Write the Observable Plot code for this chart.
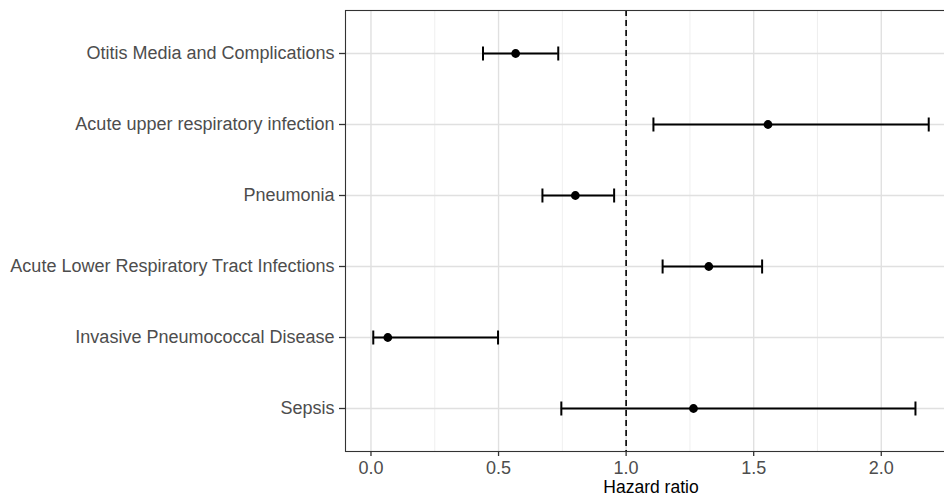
<!DOCTYPE html>
<html>
<head>
<meta charset="utf-8">
<script src="https://cdn.jsdelivr.net/npm/d3@7"></script>
<script src="https://cdn.jsdelivr.net/npm/@observablehq/plot@0.6"></script>
<style>
  html, body { margin: 0; padding: 0; background: #fff; }
  #chart { width: 944px; height: 500px; overflow: hidden; }
  #chart svg { display: block; max-width: none !important; }
  g[aria-label="y-axis tick label"] text, g[aria-label="x-axis tick label"] text { fill: #4d4d4d; }
</style>
</head>
<body>
<div id="chart"></div>
<script>
const outcomes = [
  "Otitis Media and Complications",
  "Acute upper respiratory infection",
  "Pneumonia",
  "Acute Lower Respiratory Tract Infections",
  "Invasive Pneumococcal Disease",
  "Sepsis"
];
const hazardRatio = [0.567, 1.556, 0.801, 1.324, 0.066, 1.264];
const lowerCI     = [0.439, 1.107, 0.672, 1.143, 0.009, 0.746];
const upperCI     = [0.734, 2.186, 0.953, 1.533, 0.498, 2.134];
const xTicks      = [0, 0.5, 1, 1.5, 2];
const xMinorTicks = [0.25, 0.75, 1.25, 1.75, 2.25];
const referenceLine = [1];
const xLabel = "Hazard ratio";

const data = outcomes.map((name, i) => ({name, hr: hazardRatio[i], lo: lowerCI[i], hi: upperCI[i]}));

const vbar = {
  draw(context, size) {
    const r = Math.sqrt(size / Math.PI);
    context.moveTo(0, -r);
    context.lineTo(0, r);
  }
};

const span = d3.extent([...lowerCI, ...upperCI]);
const pad = (span[1] - span[0]) * 0.05;

const chart = Plot.plot({
  width: 956,
  height: 500,
  marginLeft: 345,
  marginRight: 0,
  marginTop: 10,
  marginBottom: 49,
  style: {fontFamily: "'Liberation Sans', Arial, sans-serif", fontSize: "18px", color: "#333", maxWidth: "none"},
  x: {domain: [span[0] - pad, span[1] + pad]},
  y: {type: "point", domain: outcomes, padding: 0.6},
  marks: [
    Plot.gridX(xMinorTicks, {stroke: "#ebebeb", strokeOpacity: 1, strokeWidth: 0.8}),
    Plot.gridX(xTicks, {stroke: "#e0e0e0", strokeOpacity: 1, strokeWidth: 1.4}),
    Plot.gridY(outcomes, {stroke: "#e0e0e0", strokeOpacity: 1, strokeWidth: 1.4}),
    Plot.ruleX(referenceLine, {stroke: "#000", strokeWidth: 1.6, strokeDasharray: "6,4"}),
    Plot.ruleY(data, {y: "name", x1: "lo", x2: "hi", stroke: "#000", strokeWidth: 2}),
    Plot.dot(data, {y: "name", x: "lo", symbol: vbar, r: 7, stroke: "#000", strokeWidth: 2}),
    Plot.dot(data, {y: "name", x: "hi", symbol: vbar, r: 7, stroke: "#000", strokeWidth: 2}),
    Plot.dot(data, {y: "name", x: "hr", r: 4.4, fill: "#000", stroke: "none"}),
    Plot.frame({stroke: "#333", strokeWidth: 1.1}),
    Plot.axisX({ticks: xTicks, tickFormat: d3.format(".1f"), tickSize: 5, tickPadding: 5, label: null, stroke: "#333", strokeWidth: 1.3, fontSize: 18}),
    Plot.axisY({tickSize: 6, tickPadding: 5, label: null, stroke: "#333", strokeWidth: 1.3, fontSize: 18}),
    Plot.text([xLabel], {frameAnchor: "bottom", dy: 41, fontSize: 17.5, fill: "#000"})
  ]
});
document.getElementById("chart").appendChild(chart);
</script>
</body>
</html>
